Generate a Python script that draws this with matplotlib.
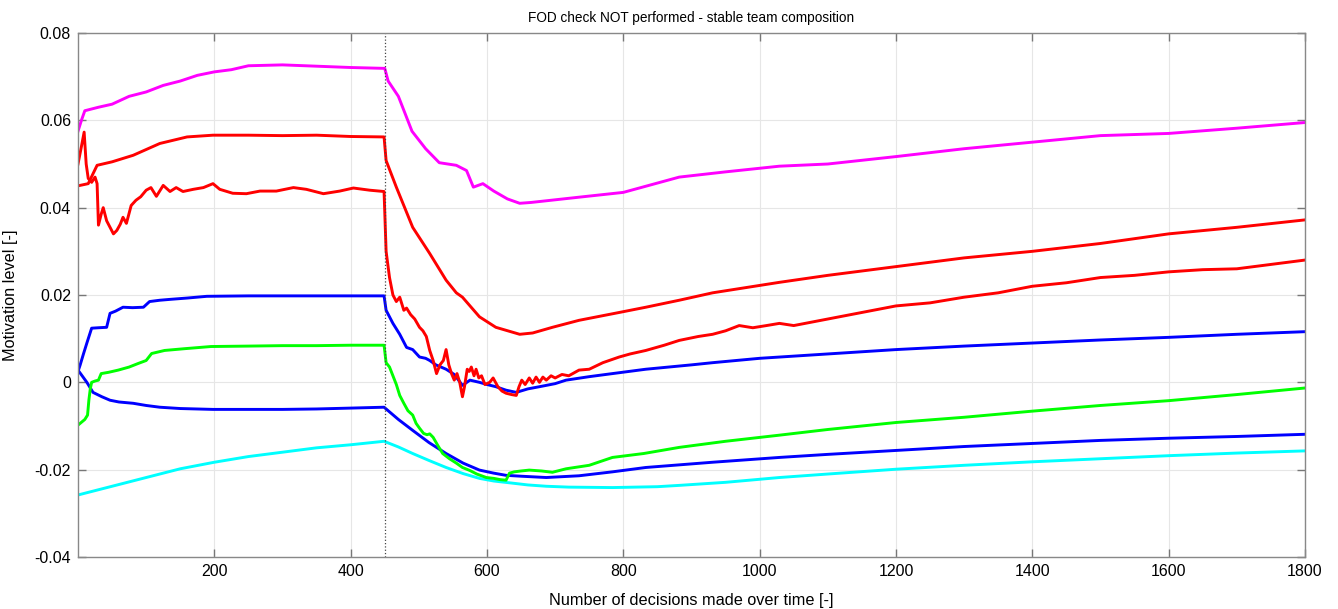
import matplotlib
matplotlib.use("Agg")
import matplotlib.pyplot as plt

plt.rcParams['font.family'] = ['Liberation Sans', 'DejaVu Sans']

# values
switch_x = 450

mag_x = [0, 5, 10, 30, 50, 75, 100, 125, 150, 175, 200, 225, 250, 300, 350, 400, 450,
         455, 470, 490, 510, 530, 555, 570, 580, 594, 610, 630, 648, 665, 700, 735, 800,
         882, 950, 1029, 1100, 1200, 1300, 1400, 1500, 1600, 1700, 1800]
mag_y = [0.0575, 0.060, 0.0622, 0.063, 0.0637, 0.0655, 0.0665, 0.068, 0.069, 0.0703,
         0.0711, 0.0716, 0.0725, 0.0727, 0.0724, 0.0721, 0.0719,
         0.069, 0.0655, 0.0575, 0.0535, 0.0503, 0.0497, 0.0485, 0.0447, 0.0455, 0.0438,
         0.042, 0.041, 0.0412, 0.0418, 0.0424, 0.0435, 0.047, 0.0482, 0.0495, 0.050,
         0.0517, 0.0535, 0.055, 0.0565, 0.057, 0.0582, 0.0595]

red1_x = [0, 15, 28, 50, 81, 120, 160, 198, 250, 300, 350, 400, 449, 452, 467, 491, 516,
          540, 555, 564, 589, 613, 648, 667, 696, 735, 794, 833, 882, 931, 1029, 1100,
          1200, 1300, 1400, 1500, 1600, 1700, 1800]
red1_y = [0.045, 0.0455, 0.0497, 0.0505, 0.052, 0.0547, 0.0562, 0.0566, 0.0566, 0.0565,
          0.0566, 0.0563, 0.0562, 0.0508, 0.0447, 0.0355, 0.0295, 0.0234, 0.0205, 0.0195,
          0.015, 0.0126, 0.011, 0.0113, 0.0126, 0.0142, 0.016, 0.0172, 0.0188, 0.0205,
          0.0229, 0.0245, 0.0265, 0.0285, 0.030, 0.0318, 0.034, 0.0355, 0.0372]

red2_x = [0, 5, 9, 12, 15, 20, 25, 28, 30, 34, 37, 42, 47, 52, 57, 62, 66, 71, 78, 85,
          92, 100, 107, 115, 125, 135, 144, 154, 169, 184, 198, 208, 227, 247, 267, 291,
          316, 335, 360, 384, 404, 428, 449,
          452, 457, 462, 467, 472, 478, 482, 488, 494, 501, 506, 511, 516, 521, 526, 531,
          536, 540, 544, 548, 552, 556, 560, 564, 567, 571, 574, 577, 581, 584, 588, 592,
          597, 604, 609, 616, 622, 628, 636, 643, 647, 651, 656, 662, 667, 672, 677, 682,
          687, 694, 700, 710, 720, 735, 750, 770, 794, 810, 833, 860, 882, 910, 931, 950,
          970, 990, 1010, 1029, 1050, 1100, 1150, 1200, 1250, 1300, 1350, 1400, 1450,
          1500, 1550, 1600, 1650, 1700, 1750, 1800]
red2_y = [0.050, 0.054, 0.0573, 0.050, 0.0467, 0.0458, 0.047, 0.0455, 0.036, 0.0385,
          0.040, 0.037, 0.0355, 0.034, 0.0348, 0.0362, 0.0378, 0.0364, 0.0405, 0.0417,
          0.0425, 0.044, 0.0446, 0.0426, 0.0451, 0.0437, 0.0446, 0.0437, 0.0442, 0.0446,
          0.0455, 0.0442, 0.0433, 0.0432, 0.0438, 0.0438, 0.0446, 0.0442, 0.0432, 0.0438,
          0.0445, 0.044, 0.0437,
          0.030, 0.024, 0.020, 0.0185, 0.0195, 0.0165, 0.017, 0.0155, 0.0145, 0.0126,
          0.0118, 0.0105, 0.0073, 0.005, 0.002, 0.004, 0.005, 0.0075, 0.004, 0.002,
          0.0005, 0.002, 0.0, -0.0033, -0.001, 0.003, 0.0025, 0.0035, 0.0015, 0.003,
          0.001, 0.0015, -0.0005, 0.0, 0.001, -0.001, -0.002, -0.0025, -0.0028, -0.003,
          -0.001, 0.0005, -0.0005, 0.001, -0.0002, 0.0012, 0.0, 0.0012, 0.0005, 0.0015,
          0.001, 0.0018, 0.0015, 0.0028, 0.003, 0.0045, 0.0058, 0.0065, 0.0073, 0.0085,
          0.0096, 0.0105, 0.011, 0.0118, 0.013, 0.0125, 0.013, 0.0135, 0.013, 0.0145,
          0.016, 0.0175, 0.0182, 0.0195, 0.0205, 0.022, 0.0228, 0.024, 0.0245, 0.0253,
          0.0258, 0.026, 0.027, 0.028]

blue1_x = [0, 3, 8, 13, 20, 30, 42, 47, 55, 66, 80, 96, 105, 120, 135, 160, 189, 250,
           300, 350, 400, 449, 452, 462, 472, 482, 491, 501, 510, 516, 525, 540, 552, 564,
           575, 589, 600, 613, 628, 643, 660, 677, 700, 716, 750, 784, 833, 900, 931, 1000,
           1100, 1200, 1300, 1400, 1500, 1600, 1700, 1800]
blue1_y = [0.0025, 0.0039, 0.0065, 0.009, 0.0124, 0.0125, 0.0126, 0.0158, 0.0163, 0.0172,
           0.0171, 0.0172, 0.0185, 0.0188, 0.019, 0.0193, 0.0197, 0.0198, 0.0198, 0.0198,
           0.0198, 0.0198, 0.0165, 0.0135, 0.011, 0.008, 0.0075, 0.0058, 0.0055, 0.005,
           0.004, 0.003, 0.0018, -0.0007, 0.0005, 0.0, -0.0005, -0.001, -0.0018, -0.0023,
           -0.0015, -0.001, -0.0003, 0.0005, 0.0013, 0.002, 0.003, 0.004, 0.0045, 0.0055,
           0.0065, 0.0075, 0.0083, 0.009, 0.0097, 0.0103, 0.011, 0.0116]

green_x = [0, 10, 14, 16, 18, 20, 25, 30, 34, 45, 59, 75, 88, 100, 108, 127, 156, 195, 250,
           300, 350, 400, 449, 452, 457, 462, 467, 472, 478, 484, 491, 496, 501, 507, 512,
           516, 521, 528, 535, 545, 555, 564, 575, 585, 599, 610, 620, 628, 633, 640, 650,
           662, 680, 696, 716, 750, 784, 830, 882, 950, 1029, 1100, 1200, 1300, 1400, 1500,
           1600, 1700, 1800]
green_y = [-0.0098, -0.0085, -0.0075, -0.004, -0.0015, 0.0, 0.0003, 0.0005, 0.002, 0.0023,
           0.0028, 0.0035, 0.0043, 0.005, 0.0066, 0.0073, 0.0077, 0.0082, 0.0083, 0.0084,
           0.0084, 0.0085, 0.0085, 0.0045, 0.0035, 0.0015, -0.0005, -0.003, -0.0048,
           -0.0065, -0.0075, -0.0094, -0.0105, -0.0117, -0.012, -0.0118, -0.0126, -0.0145,
           -0.0163, -0.0175, -0.0185, -0.0195, -0.0202, -0.021, -0.0218, -0.022, -0.0223,
           -0.0224, -0.0208, -0.0205, -0.0203, -0.0201, -0.0203, -0.0206, -0.0198, -0.019,
           -0.0172, -0.0163, -0.0149, -0.0135, -0.0121, -0.0108, -0.0092, -0.008, -0.0066,
           -0.0053, -0.0042, -0.0028, -0.0013]

blue2_x = [0, 13, 22, 35, 47, 60, 81, 100, 120, 150, 198, 250, 300, 350, 400, 449, 470,
           491, 515, 540, 565, 589, 610, 628, 650, 687, 735, 784, 833, 931, 1029, 1100,
           1200, 1300, 1400, 1500, 1600, 1700, 1800]
blue2_y = [0.0028, 0.0, -0.0023, -0.0033, -0.0041, -0.0045, -0.0048, -0.0053, -0.0057,
           -0.006, -0.0062, -0.0062, -0.0062, -0.0061, -0.0059, -0.0057, -0.0085, -0.011,
           -0.0138, -0.0163, -0.0185, -0.0201, -0.0208, -0.0213, -0.0215, -0.0218, -0.0214,
           -0.0205, -0.0195, -0.0183, -0.0172, -0.0165, -0.0156, -0.0147, -0.014, -0.0133,
           -0.0128, -0.0124, -0.0119]

cyan_x = [0, 20, 50, 100, 150, 200, 250, 300, 350, 400, 449, 470, 491, 515, 540, 565,
          589, 610, 638, 660, 687, 720, 784, 850, 882, 950, 1029, 1100, 1200, 1300, 1400,
          1500, 1600, 1700, 1800]
cyan_y = [-0.0258, -0.025, -0.0238, -0.0218, -0.0198, -0.0183, -0.017, -0.016, -0.015,
          -0.0143, -0.0135, -0.0148, -0.0163, -0.0179, -0.0195, -0.0209, -0.022, -0.0226,
          -0.0231, -0.0235, -0.0238, -0.024, -0.0241, -0.0239, -0.0236, -0.0229, -0.0218,
          -0.021, -0.0199, -0.019, -0.0182, -0.0175, -0.0168, -0.0162, -0.0157]

fig = plt.figure(figsize=(13.38, 6.09), dpi=100)
ax = fig.add_axes([0.0583, 0.0854, 0.917, 0.8604])

lw = 2.1
ax.plot(cyan_x, cyan_y, color='#00ffff', lw=lw)
ax.plot(blue2_x, blue2_y, color='#0000ff', lw=lw)
ax.plot(green_x, green_y, color='#00ff00', lw=lw)
ax.plot(blue1_x, blue1_y, color='#0000ff', lw=lw)
ax.plot(red2_x, red2_y, color='#ff0000', lw=lw)
ax.plot(red1_x, red1_y, color='#ff0000', lw=lw)
ax.plot(mag_x, mag_y, color='#ff00ff', lw=lw)

ax.axvline(switch_x, color='#444444', ls=':', lw=0.9)

ax.set_xlim(0, 1800)
ax.set_ylim(-0.04, 0.08)
ax.set_xticks(range(200, 1801, 200))
ax.set_yticks([-0.04, -0.02, 0, 0.02, 0.04, 0.06, 0.08])
ax.set_yticklabels(['-0.04', '-0.02', '0', '0.02', '0.04', '0.06', '0.08'])
ax.grid(True, color='#e6e6e6', lw=0.8)
ax.set_axisbelow(True)
ax.tick_params(direction='in', length=6, width=1, color='#777777', labelsize=11.5,
               top=True, right=True, pad=5)
for s in ax.spines.values():
    s.set_color('#888888')
    s.set_linewidth(1)

ax.set_title('FOD check NOT performed - stable team composition', fontsize=9.8, pad=8)
ax.set_xlabel('Number of decisions made over time [-]', fontsize=11.7, labelpad=10)
ax.set_ylabel('Motivation level [-]', fontsize=11.7, labelpad=12)

fig.savefig('out.png', dpi=100)
